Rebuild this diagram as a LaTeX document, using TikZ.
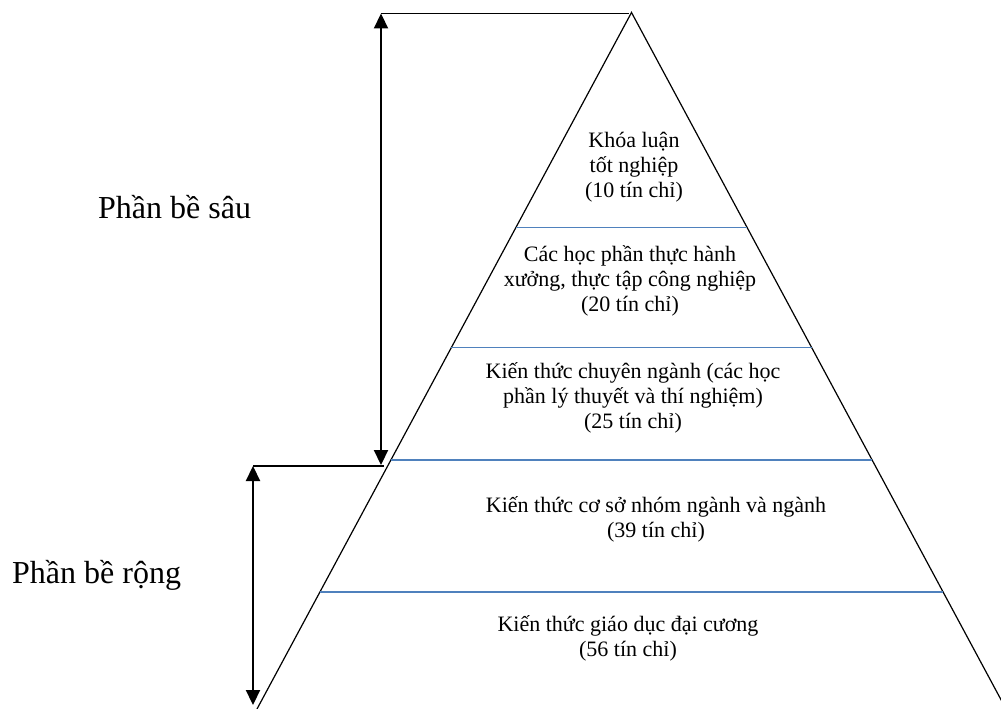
\documentclass[tikz,border=0pt]{standalone}
\usepackage{fontspec}
\setmainfont{Liberation Serif}
\usetikzlibrary{arrows.meta,calc}
\definecolor{dividerblue}{RGB}{79,129,189}
\begin{document}
\begin{tikzpicture}[x=1pt,y=-1pt,
  edge/.style={line width=1.2pt,black},
  divider/.style={line width=1.3pt,dividerblue},
  thinline/.style={line width=1.6pt,black},
  dim/.style={line width=2.2pt,{Triangle[width=14pt,length=15pt]}-{Triangle[width=14pt,length=15pt]}},
  lvl/.style={font=\fontsize{22}{25}\selectfont,align=center,anchor=base,inner sep=0pt},
  side/.style={font=\fontsize{32}{36}\selectfont,anchor=base west,inner sep=0pt}]
\useasboundingbox (0,0) rectangle (1001,709);
\clip (0,0) rectangle (1001,709);
\coordinate (apex) at (631.5,12.5);
\coordinate (bl) at (257,709);
\coordinate (br) at (1006,709);
\draw[edge] (bl) -- (apex) -- (br);
% dividers
\coordinate (l1) at ($(apex)!0.3087!(bl)$); \coordinate (r1) at ($(apex)!0.3087!(br)$);
\coordinate (l2) at ($(apex)!0.4810!(bl)$); \coordinate (r2) at ($(apex)!0.4810!(br)$);
\coordinate (l3) at ($(apex)!0.6425!(bl)$); \coordinate (r3) at ($(apex)!0.6425!(br)$);
\coordinate (l4) at ($(apex)!0.8320!(bl)$); \coordinate (r4) at ($(apex)!0.8320!(br)$);
\draw[divider] (l1) -- (r1);
\draw[divider] (l2) -- (r2);
\draw[divider] (l3) -- (r3);
\draw[divider] (l4) -- (r4);
% level texts (anchor = baseline of last line)
\node[lvl] (t1) at (634,197) {Khóa luận\\tốt nghiệp\\(10 tín chỉ)};
\node[lvl] (t2) at (630,311) {Các học phần thực hành\\xưởng, thực tập công nghiệp\\(20 tín chỉ)};
\node[lvl] (t3) at (633,428) {Kiến thức chuyên ngành (các học\\phần lý thuyết và thí nghiệm)\\(25 tín chỉ)};
\node[lvl] (t4) at (656,537) {Kiến thức cơ sở nhóm ngành và ngành\\(39 tín chỉ)};
\node[lvl] (t5) at (628,656) {Kiến thức giáo dục đại cương\\(56 tín chỉ)};
% dimension markers
\coordinate (topL) at (381,13.5);
\coordinate (topR) at (629,13.5);
\coordinate (midA) at (381,465);
\coordinate (midL) at (253,466);
\coordinate (midR) at (384,466);
\coordinate (bot) at (253,705);
\draw[thinline] (topL) -- (topR);
\draw[dim] (topL) -- (midA);
\draw[thinline] (midL) -- (midR);
\draw[dim] (midL) -- (bot);
\node[side] (deep) at (98,218) {Phần bề sâu};
\node[side] (broad) at (12,583) {Phần bề rộng};
\end{tikzpicture}
\end{document}
